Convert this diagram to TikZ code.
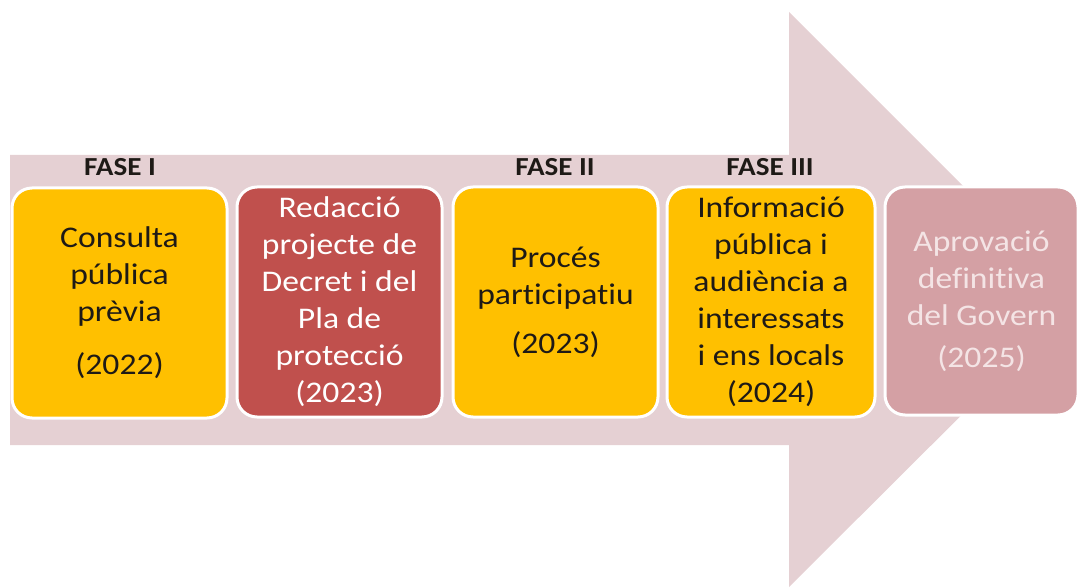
\documentclass[tikz,border=0pt]{standalone}
\usepackage{fontspec}
\setmainfont{Carlito}[FakeStretch=1.12, Ligatures={NoCommon}]
\definecolor{arrowc}{RGB}{229,208,211}
\definecolor{yellowc}{RGB}{255,192,0}
\definecolor{redc}{RGB}{192,80,77}
\definecolor{pinkc}{RGB}{212,160,164}
\definecolor{txtdark}{RGB}{30,26,22}
\definecolor{txtpink}{RGB}{244,228,229}
\tikzset{
  stagebox/.style={rounded corners=20pt, draw=white, line width=3pt, align=center,
    inner sep=0pt, font=\fontsize{30}{37}\selectfont, minimum height=230pt},
  faselabel/.style={anchor=base, font=\fontsize{26}{30}\selectfont\bfseries, text=txtdark, inner sep=0pt}
}
\begin{document}
\begin{tikzpicture}[x=1pt,y=-1pt]
\useasboundingbox (0,0) rectangle (1080,588);
% big arrow
\fill[arrowc] (10,155) -- (789,155) -- (789,12) -- (1077,300) -- (789,587) -- (789,445) -- (10,445) -- cycle;
% boxes
\node[stagebox, fill=yellowc, text=txtdark, minimum width=215pt] (b1) at (119.5,303)
  {Consulta\\pública\\prèvia\\[16pt](2022)};
\node[stagebox, fill=redc, text=white, minimum width=205pt] (b2) at (339.5,302)
  {Redacció\\projecte de\\Decret i del\\Pla de\\protecció\\(2023)};
\node[stagebox, fill=yellowc, text=txtdark, minimum width=205pt] (b3) at (555.5,302)
  {Procés\\participatiu\\[12pt](2023)};
\node[stagebox, fill=yellowc, text=txtdark, minimum width=208pt] (b4) at (771,302)
  {Informació\\pública i\\audiència a\\interessats\\i ens locals\\(2024)};
\node[stagebox, fill=pinkc, text=txtpink, minimum width=193pt, minimum height=228pt] (b5) at (981.5,301)
  {Aprovació\\definitiva\\del Govern\\[5pt](2025)};
% phase labels
\node[faselabel] (f1) at (120,176) {FASE I};
\node[faselabel] (f2) at (555,176) {FASE II};
\node[faselabel] (f3) at (770,176) {FASE III};
\end{tikzpicture}
\end{document}
